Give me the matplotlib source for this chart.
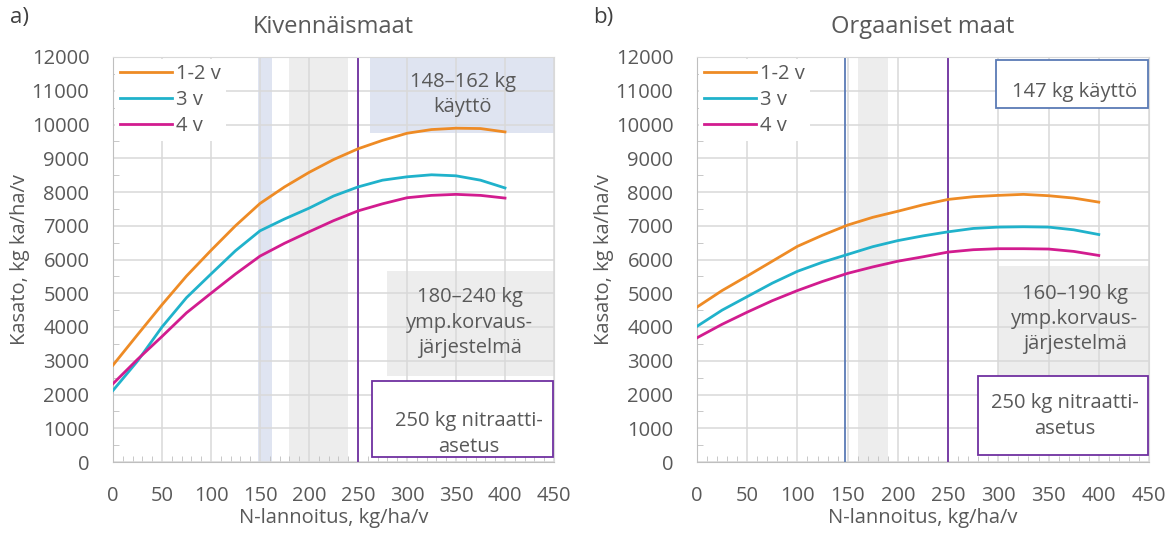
import matplotlib.pyplot as plt
import matplotlib.patches as mpatches
import numpy as np

plt.rcParams['font.family'] = ['Open Sans', 'DejaVu Sans']

# typpilannoitus, kg/ha/v
n_rate = [0, 25, 50, 75, 100, 125, 150, 175, 200, 225, 250, 275, 300, 325, 350, 375, 400]

# kivennäismaat
min_12 = [2870, 3770, 4660, 5510, 6270, 7000, 7660, 8150, 8580, 8960, 9280, 9530, 9740, 9850, 9890, 9880, 9780]
min_3 = [2120, 2990, 4000, 4870, 5570, 6260, 6850, 7200, 7520, 7880, 8150, 8350, 8450, 8510, 8480, 8350, 8120]
min_4 = [2320, 3040, 3720, 4420, 5000, 5570, 6100, 6480, 6820, 7150, 7440, 7650, 7830, 7900, 7930, 7900, 7820]

# orgaaniset maat
org_12 = [4590, 5080, 5510, 5950, 6390, 6720, 7020, 7250, 7430, 7620, 7780, 7860, 7900, 7930, 7890, 7820, 7700]
org_3 = [4020, 4500, 4900, 5300, 5650, 5920, 6150, 6380, 6560, 6700, 6820, 6920, 6960, 6970, 6960, 6880, 6740]
org_4 = [3680, 4080, 4440, 4780, 5080, 5350, 5590, 5780, 5950, 6080, 6220, 6290, 6320, 6320, 6310, 6240, 6120]

labels = ['1-2 v', '3 v', '4 v']
colors = ['#ee8b25', '#20b2cb', '#d21c8f']

use_min = (148, 162)
env_min = (180, 240)
use_org = 147
env_org = (160, 190)
nitrate = 250

PURPLE = '#7030a0'
TXT = '#595959'
GRID = '#d9d9d9'
FS = 14.5

fig = plt.figure(figsize=(11.75, 5.33), dpi=100)
ax1 = fig.add_axes([113 / 1175, 1 - 462 / 533, 441 / 1175, 405 / 533])
ax2 = fig.add_axes([697 / 1175, 1 - 462 / 533, 452 / 1175, 405 / 533])


def setup(ax, title):
    ax.set_xlim(0, 450)
    ax.set_ylim(0, 12000)
    ax.set_xticks(np.arange(0, 451, 50))
    ax.set_yticks(np.arange(0, 12001, 1000))
    ax.set_xticks(np.arange(0, 451, 10), minor=True)
    ax.set_yticks(np.arange(500, 12000, 1000), minor=True)
    ax.set_axisbelow(True)
    ax.grid(True, which='major', color=GRID, lw=1.1)
    ax.tick_params(which='major', length=0, labelsize=FS, labelcolor=TXT)
    ax.tick_params(axis='x', which='major', pad=17)
    ax.tick_params(axis='y', which='major', pad=17)
    ax.tick_params(which='minor', direction='in', length=4, color='#bfbfbf',
                   top=False, right=False)
    for s in ax.spines.values():
        s.set_color(GRID)
    ax.spines['bottom'].set_color('#bfbfbf')
    ax.spines['left'].set_color('#bfbfbf')
    ax.set_xlabel('N-lannoitus, kg/ha/v', fontsize=FS, color=TXT, labelpad=2)
    ax.set_ylabel('Kasato, kg ka/ha/v', fontsize=FS, color=TXT, labelpad=1)
    ax.set_title(title, fontsize=17, color=TXT, pad=17)


# a) kivennäismaat
setup(ax1, 'Kivennäismaat')
ax1.axvspan(*use_min, color='#dfe4f1', lw=0, zorder=0)
ax1.axvspan(*env_min, color='#ededed', lw=0, zorder=0)
ax1.add_patch(mpatches.Rectangle((262, 9750), 188, 2250, fc='#dfe4f1', ec='none', zorder=0))
ax1.add_patch(mpatches.Rectangle((280, 2560), 170, 3100, fc='#ededed', ec='none', zorder=0))
ax1.axvline(nitrate, color=PURPLE, lw=1.3, zorder=2)
for y, lab, c in zip([min_12, min_3, min_4], labels, colors):
    ax1.plot(n_rate, y, color=c, lw=2, label=lab, zorder=3)
ax1.add_patch(mpatches.Rectangle((264, 160), 185, 2250, fc='white', ec=PURPLE,
                                 lw=1.3, zorder=4))
ax1.text(357, 10880, '148–162 kg\nkäyttö', ha='center', va='center', fontsize=FS,
         color=TXT, linespacing=1.35, zorder=5)
ax1.text(364, 4130, '180–240 kg\nymp.korvaus-\njärjestelmä', ha='center', va='center',
         fontsize=FS, color=TXT, linespacing=1.35, zorder=5)
ax1.text(363, 830, '250 kg nitraatti-\nasetus', ha='center', va='center', fontsize=FS,
         color=TXT, linespacing=1.35, zorder=5)

# b) orgaaniset maat
setup(ax2, 'Orgaaniset maat')
ax2.axvspan(*env_org, color='#ededed', lw=0, zorder=0)
ax2.add_patch(mpatches.Rectangle((300, 2550), 150, 3250, fc='#ededed', ec='none', zorder=0))
ax2.axvline(use_org, color='#5b7bb5', lw=1.3, zorder=2)
ax2.axvline(nitrate, color=PURPLE, lw=1.3, zorder=2)
for y, lab, c in zip([org_12, org_3, org_4], labels, colors):
    ax2.plot(n_rate, y, color=c, lw=2, label=lab, zorder=3)
ax2.add_patch(mpatches.Rectangle((298, 10500), 151, 1420, fc='white', ec='#5b7bb5',
                                 lw=1.3, zorder=4))
ax2.add_patch(mpatches.Rectangle((280, 200), 169, 2350, fc='white', ec=PURPLE,
                                 lw=1.3, zorder=4))
ax2.text(376, 10950, '147 kg käyttö', ha='center', va='center', fontsize=FS,
         color=TXT, zorder=5)
ax2.text(376, 4230, '160–190 kg\nymp.korvaus-\njärjestelmä', ha='center', va='center',
         fontsize=FS, color=TXT, linespacing=1.35, zorder=5)
ax2.text(366, 1360, '250 kg nitraatti-\nasetus', ha='center', va='center', fontsize=FS,
         color=TXT, linespacing=1.35, zorder=5)

for ax in (ax1, ax2):
    leg = ax.legend(loc='upper left', bbox_to_anchor=(0, 1), frameon=True, fontsize=FS,
                    handlelength=2.6, handletextpad=0.2, labelspacing=0.3,
                    borderaxespad=0.1, borderpad=0.25, labelcolor=TXT)
    leg.get_frame().set_edgecolor('none')
    leg.get_frame().set_facecolor('white')
    leg.get_frame().set_alpha(1)
    leg.set_zorder(6)

fig.text(10 / 1175, 1 - 18 / 533, 'a)', fontsize=16, color='#404040', va='center')
fig.text(593 / 1175, 1 - 18 / 533, 'b)', fontsize=16, color='#404040', va='center')

fig.savefig('out.png', dpi=100)
